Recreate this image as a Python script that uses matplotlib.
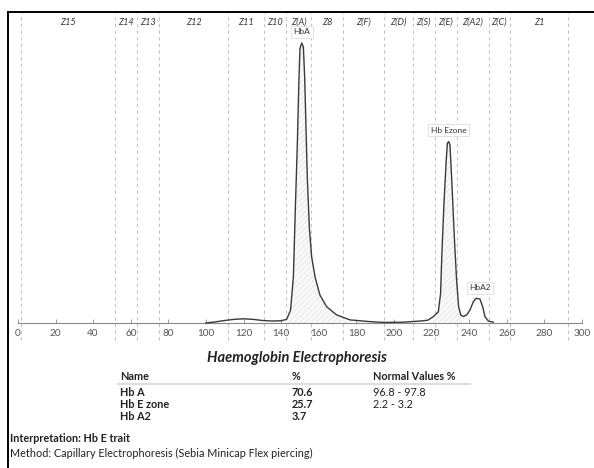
import numpy as np
import matplotlib.pyplot as plt

plt.rcParams['font.family'] = ['Lato', 'DejaVu Sans']
plt.rcParams['hatch.color'] = '#e2e2e2'
plt.rcParams['hatch.linewidth'] = 0.5

# electropherogram trace (x = migration, y = relative signal)
trace_x = [100, 105, 110, 115, 120, 125, 130, 135, 140, 142.9, 145, 146.5, 147.5, 148.6,
           149.5, 150, 150.9, 151.8, 152.5, 153.2, 153.9, 155, 156.2, 158, 160.6, 164.2,
           169.5, 176.6, 187, 195, 205, 214, 218, 221, 223.6, 224.8, 225.5, 226.6, 227.7,
           228.4, 229.1, 229.8, 230.9, 232.1, 233.3, 234.4, 235.5, 236.9, 238.7, 240.4,
           242.2, 243.6, 245.7, 247.2, 248.4, 250.2, 252.8]
trace_y = [0.0, 0.4, 0.9, 1.3, 1.5, 1.3, 0.9, 0.7, 0.8, 1.3, 4.6, 16.5, 40, 64,
           88, 98, 100, 98.7, 88, 70, 52, 34, 23.7, 16.5, 10, 5.8,
           2.9, 1.1, 0.5, 0.2, 0.3, 0.7, 1.0, 2.3, 4.0, 10.6, 25, 42.7, 57,
           64.2, 64.8, 63.6, 48.7, 30.8, 15.4, 5.8, 2.9, 2.3, 2.9, 4.6,
           7.6, 8.8, 8.6, 5.8, 2.3, 0.7, 0.3]

# zone boundaries and names
zone_edges = [1.6, 51.6, 63.3, 75, 111.7, 130.9, 142.6, 155.9, 172.9, 194.7, 210,
              221.8, 233.5, 250.5, 261.7, 292.6]
zone_names = ['Z15', 'Z14', 'Z13', 'Z12', 'Z11', 'Z10', 'Z(A)', 'Z8', 'Z(F)', 'Z(D)',
              'Z(S)', 'Z(E)', 'Z(A2)', 'Z(C)', 'Z1']

# peak labels (approx. position of each apex)
peak_names = ['HbA', 'Hb Ezone', 'HbA2']
peak_x = [150.9, 229.1, 245.7]
peak_y = [100, 64.8, 8.6]
fill_ranges = [(144, 175), (221, 236)]

# results table
tbl_names = ['Hb A', 'Hb E zone', 'Hb A2']
tbl_pct = ['70.6', '25.7', '3.7']
tbl_normal = ['96.8 - 97.8', '2.2 - 3.2', '']

W, H = 594, 468
fig = plt.figure(figsize=(W / 100, H / 100), dpi=100)
ax = fig.add_axes([8 / W, 0, 1 - 8 / W, 1 - 12 / H])

x = np.array(trace_x)
y = np.array(trace_y)

# zone dividers
ax.vlines(zone_edges, -6, 112, colors='#c4c4c4', linestyles=(0, (3, 3)), lw=0.8, zorder=1)
for i, name in enumerate(zone_names):
    cx = (zone_edges[i] + zone_edges[i + 1]) / 2
    ax.text(cx, 107.4, name, ha='center', va='center', fontsize=6.6, style='italic',
            color='#333333')

for lo, hi in fill_ranges:
    m = (x >= lo) & (x <= hi)
    ax.fill_between(x, 0, y, where=m, interpolate=True, facecolor='#f9f9f9',
                    edgecolor='#e2e2e2', hatch='//////', lw=0, zorder=2)
ax.plot(x, y, color='#3a3a3a', lw=1.0, zorder=3)

for name, px, py in zip(peak_names, peak_x, peak_y):
    ax.annotate(name, (px, py), xytext=(0, 8), textcoords='offset points', ha='center',
                va='center', fontsize=6.0, color='#333333',
                bbox=dict(boxstyle='square,pad=0.3', fc='white', ec='#dddddd', lw=0.6))

ax.set_xlim(-5.3, 306.4)
ax.set_ylim(-51.8, 111.1)
ax.spines['right'].set_visible(False)
ax.spines['left'].set_linewidth(1.4)
ax.spines['top'].set_linewidth(1.4)
ax.spines['bottom'].set_position(('data', 0))
ax.spines['bottom'].set_bounds(0, 300)
ax.spines['bottom'].set_color('#888888')
ax.spines['bottom'].set_linewidth(0.8)
ax.set_xticks(np.arange(0, 301, 20))
ax.tick_params(axis='x', direction='in', length=3, width=0.6, color='#888888',
               labelsize=7.2, labelcolor='#555555', pad=4)
ax.set_yticks([])

# report text below the plot
def ftext(px, py, s, **kw):
    fig.text(px / W, 1 - py / H, s, va='center', color='#222222', **kw)

ftext(297, 358, 'Haemoglobin Electrophoresis', ha='center', fontsize=10.5,
      weight='bold', style='italic')
ftext(120, 376, 'Name', fontsize=7.8, weight='bold')
ftext(292, 376, '%', fontsize=7.8, weight='bold')
ftext(373, 376, 'Normal Values %', fontsize=7.8, weight='bold')
fig.add_artist(plt.Line2D([118 / W, 470 / W], [1 - 384 / H, 1 - 384 / H],
                          color='#d8d8d8', lw=1.2))
for i in range(len(tbl_names)):
    yy = 392 + 12 * i
    ftext(120, yy, tbl_names[i], fontsize=7.8, weight='bold')
    ftext(292, yy, tbl_pct[i], fontsize=7.8, weight='bold')
    ftext(373, yy, tbl_normal[i], fontsize=7.8)

ftext(10, 438, 'Interpretation: Hb E trait', fontsize=7.8, weight='bold')
ftext(10, 453, 'Method: Capillary Electrophoresis (Sebia Minicap Flex piercing)',
      fontsize=7.8)

fig.savefig('out.png', dpi=100)
